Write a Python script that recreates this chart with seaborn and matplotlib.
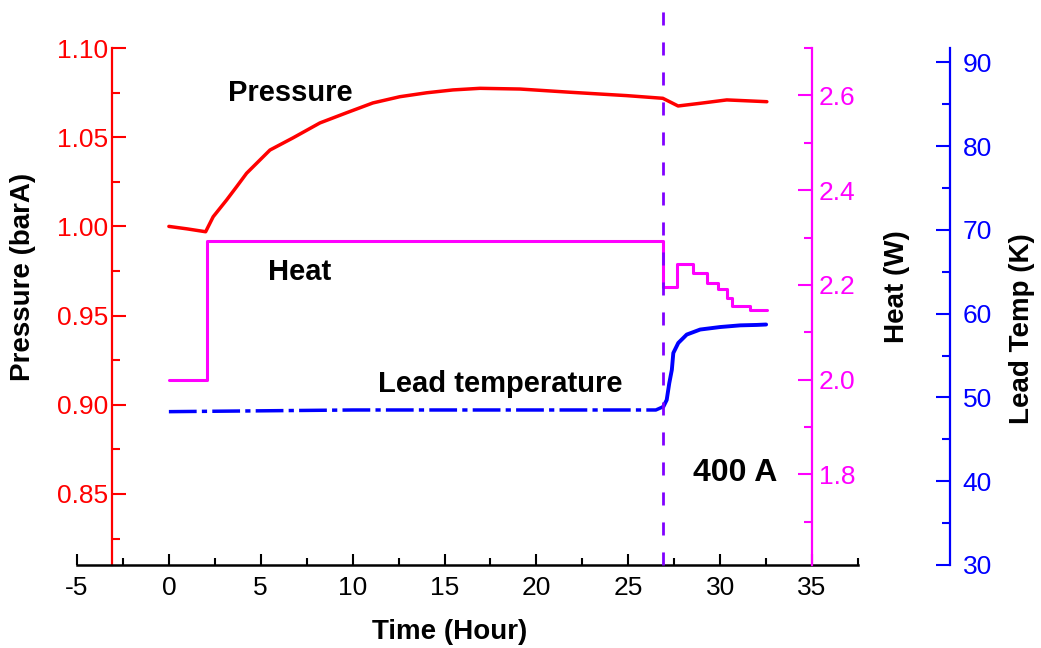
import numpy as np
import matplotlib
matplotlib.use("Agg")
import matplotlib.pyplot as plt
from matplotlib.ticker import MultipleLocator, FormatStrFormatter
import seaborn as sns

# ---------------- data ----------------
time_pressure = [0, 1.0, 2.0, 2.41, 3.14, 3.69, 4.23, 5.50, 6.75, 8.22, 9.67, 11.1, 12.57,
                 14.03, 15.46, 16.93, 19.11, 21.83, 24.92, 26.88, 27.71, 28.91, 30.36, 32.54]
pressure = [1.000, 0.9986, 0.9970, 1.0054, 1.0148, 1.0223, 1.0298, 1.0428, 1.0496, 1.0580,
            1.0637, 1.0692, 1.0727, 1.0749, 1.0765, 1.0774, 1.0770, 1.0752, 1.0733, 1.0718,
            1.0675, 1.0690, 1.0709, 1.0699]

time_heat = [0, 2.05, 26.91, 27.64, 28.54, 29.27, 29.90, 30.39, 30.63, 31.63, 32.54]
heat = [2.000, 2.293, 2.195, 2.244, 2.225, 2.205, 2.192, 2.173, 2.155, 2.147, 2.147]

time_temp = [0, 5, 10, 15, 20, 26.5, 26.91, 27.09, 27.23, 27.37, 27.45, 27.72, 28.18,
             28.91, 30.0, 31.09, 31.99, 32.5]
lead_temp = [48.3, 48.4, 48.5, 48.5, 48.5, 48.5, 48.9, 49.7, 51.7, 53.3, 55.3, 56.5, 57.5,
             58.1, 58.4, 58.6, 58.65, 58.7]

current_switch_time = 26.9

x_ticks = [-5, 0, 5, 10, 15, 20, 25, 30, 35]
pressure_ticks = [0.85, 0.90, 0.95, 1.00, 1.05, 1.10]
heat_ticks = [1.8, 2.0, 2.2, 2.4, 2.6]
temp_ticks = [30, 40, 50, 60, 70, 80, 90]

# ---------------- style ----------------
sns.set_style("white")
plt.rcParams["font.family"] = ["Liberation Sans", "DejaVu Sans"]
plt.rcParams["axes.unicode_minus"] = False
plt.rcParams["text.color"] = "black"

RED = "#FF0000"
MAG = "#FF00FF"
BLUE = "#0000FF"
PURPLE = "#8000FF"
TICK_SIZE = 19

fig = plt.figure(figsize=(10.41, 6.48), dpi=100)
ax = fig.add_axes([77 / 1041, 83 / 648, 781 / 1041, 517 / 648])
ax2 = ax.twinx()
ax3 = ax.twinx()

# ---------------- lines ----------------
sns.lineplot(x=time_pressure, y=pressure, ax=ax, color=RED, linewidth=2.5)
sns.lineplot(x=time_heat, y=heat, ax=ax2, color=MAG, linewidth=2.2,
             drawstyle="steps-post")
k = time_temp.index(26.91)
sns.lineplot(x=time_temp[:k + 1], y=lead_temp[:k + 1], ax=ax3, color=BLUE,
             linewidth=2.5, linestyle=(0, (8, 1.5, 1.5, 1.5)))
sns.lineplot(x=time_temp[k:], y=lead_temp[k:], ax=ax3, color=BLUE, linewidth=2.8)

ax3.axvline(current_switch_time, ymin=0, ymax=1.083, color=PURPLE, linewidth=2,
            linestyle=(0, (4.7, 6.1)), clip_on=False)

# ---------------- axes: pressure ----------------
ax.set_xlim(-5, 37.5)
ax.set_ylim(0.8102, 1.10)
ax.set_xticks(x_ticks)
ax.xaxis.set_minor_locator(MultipleLocator(2.5))
ax.set_yticks(pressure_ticks)
ax.yaxis.set_minor_locator(MultipleLocator(0.025))
ax.yaxis.set_major_formatter(FormatStrFormatter("%.2f"))
for s in ["top", "right"]:
    ax.spines[s].set_visible(False)
ax.spines["left"].set_position(("data", -3.08))
ax.spines["left"].set_color(RED)
ax.spines["left"].set_linewidth(1.6)
ax.spines["bottom"].set_color("black")
ax.spines["bottom"].set_linewidth(1.8)
ax.tick_params(axis="x", which="both", direction="in", colors="black",
               labelsize=TICK_SIZE, width=1.5, pad=8, bottom=True, top=False)
ax.tick_params(axis="x", which="major", length=8)
ax.tick_params(axis="x", which="minor", length=5)
ax.tick_params(axis="y", which="both", direction="in", colors=RED, labelsize=TICK_SIZE,
               width=1.5, pad=3, left=True, right=False)
ax.tick_params(axis="y", which="major", length=10)
ax.tick_params(axis="y", which="minor", length=6)
ax.set_xlabel("")
ax.set_ylabel("")

# ---------------- axes: heat ----------------
ax2.set_ylim(1.609, 2.70)
ax2.set_yticks(heat_ticks)
ax2.yaxis.set_minor_locator(MultipleLocator(0.1))
ax2.yaxis.set_major_formatter(FormatStrFormatter("%.1f"))
for s in ["top", "left", "bottom"]:
    ax2.spines[s].set_visible(False)
ax2.spines["right"].set_position(("data", 35))
ax2.spines["right"].set_color(MAG)
ax2.spines["right"].set_linewidth(1.6)
ax2.tick_params(axis="y", which="both", direction="in", colors=MAG, labelsize=TICK_SIZE,
                width=1.5, pad=5, right=True, left=False)
ax2.tick_params(axis="y", which="major", length=10)
ax2.tick_params(axis="y", which="minor", length=6)
ax2.set_ylabel("")

# ---------------- axes: lead temperature ----------------
ax3.set_ylim(30, 91.7)
ax3.set_yticks(temp_ticks)
ax3.yaxis.set_minor_locator(MultipleLocator(5))
for s in ["top", "left", "bottom"]:
    ax3.spines[s].set_visible(False)
ax3.spines["right"].set_position(("axes", 1.118))
ax3.spines["right"].set_color(BLUE)
ax3.spines["right"].set_linewidth(1.6)
ax3.tick_params(axis="y", which="both", direction="in", colors=BLUE, labelsize=TICK_SIZE,
                width=1.5, pad=9, right=True, left=False)
ax3.tick_params(axis="y", which="major", length=10)
ax3.tick_params(axis="y", which="minor", length=6)
ax3.set_ylabel("")

# ---------------- axis titles ----------------
ax.text(-0.0691, 0.557, "Pressure (barA)", transform=ax.transAxes, rotation=90,
        ha="center", va="center", fontsize=20, fontweight="bold", color="black")
ax.text(1.050, 0.538, "Heat (W)", transform=ax.transAxes, rotation=90,
        ha="center", va="center", fontsize=20, fontweight="bold", color="black")
ax.text(1.210, 0.458, "Lead Temp (K)", transform=ax.transAxes, rotation=90,
        ha="center", va="center", fontsize=20, fontweight="bold", color="black")
ax.text(0.4776, -0.1296, "Time (Hour)", transform=ax.transAxes,
        ha="center", va="center", fontsize=20, fontweight="bold", color="black")

# ---------------- annotations ----------------
ax.text(6.63, 1.0705, "Pressure", ha="center", va="baseline", fontsize=21,
        fontweight="bold", color="black")
ax.text(7.12, 0.9702, "Heat", ha="center", va="baseline", fontsize=21,
        fontweight="bold", color="black")
ax.text(18.02, 0.9070, "Lead temperature", ha="center", va="baseline", fontsize=21,
        fontweight="bold", color="black")
ax.text(30.8, 0.8574, "400 A", ha="center", va="baseline", fontsize=23,
        fontweight="bold", color="black")

fig.savefig("out.png", dpi=100)
